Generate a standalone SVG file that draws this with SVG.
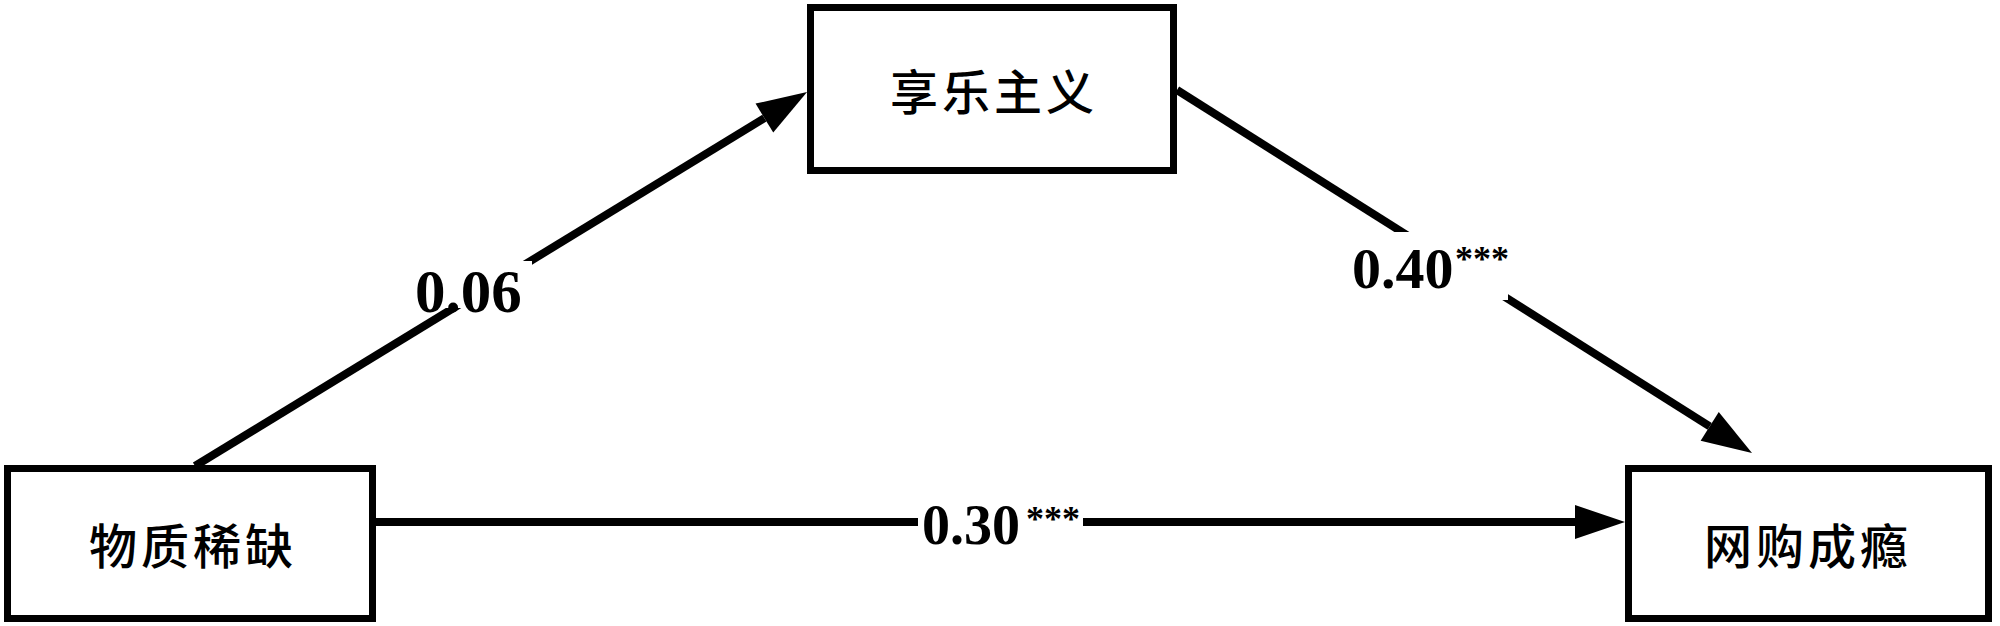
<svg xmlns="http://www.w3.org/2000/svg" width="2000" height="626" viewBox="0 0 2000 626">
<style>
.box{fill:#fff;stroke:#000;stroke-width:7}
.lbl{font-family:"Noto Sans CJK SC","Noto Sans CJK JP",sans-serif;font-size:48px;font-weight:500;letter-spacing:4px;fill:#000;text-anchor:middle;dominant-baseline:central}
.conn{stroke:#000;stroke-width:8;fill:none}
.num{font-family:"Liberation Serif","Times New Roman",serif;font-weight:bold;fill:#000}
.star{font-family:"Liberation Serif","Times New Roman",serif;font-weight:bold;font-size:36px;fill:#000}
.bg{fill:#fff}
</style>
<defs>
<marker id="arr" markerUnits="userSpaceOnUse" orient="auto" refX="0" refY="0" markerWidth="60" markerHeight="40" overflow="visible">
<path d="M0,-17 L50,0 L0,17 Z" fill="#000"/>
</marker>
</defs>
<g id="connectors">
<line class="conn" x1="195" y1="466" x2="764.4" y2="118.1" marker-end="url(#arr)"/>
<line class="conn" x1="1177" y1="90" x2="1709.7" y2="426.3" marker-end="url(#arr)"/>
<line class="conn" x1="376" y1="522" x2="1575" y2="522" marker-end="url(#arr)"/>
<rect class="bg" x="410" y="261" width="122" height="47"/>
<text class="num" x="415" y="312" font-size="61">0.06</text>
<rect class="bg" x="1340" y="232" width="168" height="68"/>
<text class="num" x="1352" y="288" font-size="58">0.40</text>
<text class="star" x="1455" y="271">***</text>
<rect class="bg" x="918" y="500" width="165" height="50"/>
<text class="num" x="922" y="544" font-size="56">0.30</text>
<text class="star" x="1026" y="531">***</text>
</g>
<g id="node-hedonism">
<rect class="box" x="810.5" y="7.5" width="363" height="163"/>
<text class="lbl" x="994" y="89">享乐主义</text>
</g>
<g id="node-scarcity">
<rect class="box" x="7.5" y="468.5" width="365" height="150"/>
<text class="lbl" x="193" y="543">物质稀缺</text>
</g>
<g id="node-addiction">
<rect class="box" x="1628.5" y="468.5" width="360" height="150"/>
<text class="lbl" x="1808" y="543">网购成瘾</text>
</g>
</svg>
